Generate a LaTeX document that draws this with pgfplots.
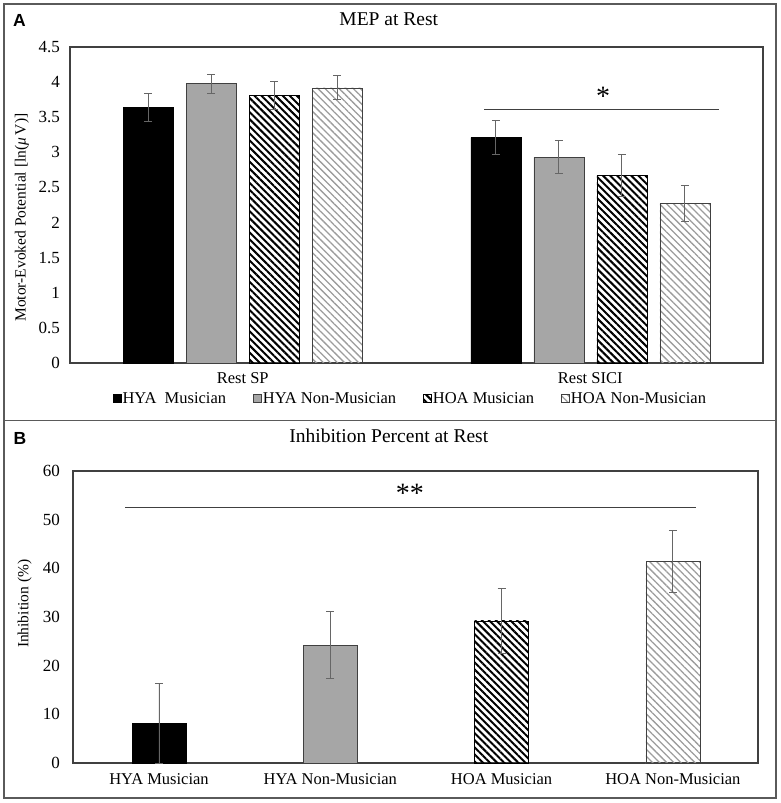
\documentclass[border=0pt]{standalone}
\usepackage{pgfplots}
\pgfplotsset{compat=1.18}
\usepackage{fontspec}
\setmainfont{Liberation Serif}
\newfontfamily\panelfont{Liberation Sans}
\usetikzlibrary{patterns.meta}
\definecolor{barfill}{HTML}{A6A6A6}
\definecolor{errc}{HTML}{666666}
\definecolor{framec}{HTML}{5A5A5A}
\definecolor{axc}{HTML}{404040}
\definecolor{hatchlight}{HTML}{9C9C9C}
\pgfplotsset{
  panel/.style={
    scale only axis,
    axis line style={axc, line width=1.1pt},
    major tick length=0pt,
    /pgf/number format/assume math mode=true,
    yticklabel style={font=\fontsize{17}{20}\selectfont, anchor=east, inner sep=0pt},
    xticklabel style={font=\fontsize{16.5}{19}\selectfont, anchor=base, inner sep=0pt},
    title style={font=\fontsize{19.5}{23}\selectfont, anchor=base, inner sep=0pt},
    ylabel style={font=\fontsize{15.5}{18}\selectfont, anchor=base, inner sep=0pt},
    ymin=0,
  },
  eb/.style={error bars/.cd, y dir=both, y explicit,
     error bar style={errc, line width=0.9pt},
     error mark options={rotate=90, errc, line width=0.9pt, mark size=4pt}},
  lg/.style={legend image code/.code={\draw[##1, line width=0.7pt] (0pt,-3.5pt) rectangle (8pt,4.5pt);}},
  hdark/.style={pattern={Lines[angle=-45, distance=5pt, line width=2pt]}, pattern color=black},
  hlight/.style={pattern={Lines[angle=-45, distance=5pt, line width=1.3pt]}, pattern color=hatchlight},
}
\begin{document}
\begin{tikzpicture}
\path[use as bounding box] (0pt,0pt) rectangle (780pt,-803pt);
\draw[framec, line width=1.5pt] (4pt,-4pt) rectangle (776pt,-798pt);
\draw[framec, line width=1.5pt] (4pt,-420.5pt) -- (776pt,-420.5pt);
\node[font=\panelfont\bfseries\fontsize{17.5}{20}\selectfont, anchor=base west, inner sep=0pt] at (13pt,-26.7pt) {A};
\node[font=\panelfont\bfseries\fontsize{17.5}{20}\selectfont, anchor=base west, inner sep=0pt] at (13.5pt,-444.3pt) {B};

\begin{axis}[panel, at={(70pt,-363pt)}, anchor=south west, width=693pt, height=316pt,
  ybar=13pt, bar width=50pt, xmin=-0.497, xmax=1.497, ymax=4.5, ytick={0,0.5,...,4.5},
  xtick={0,1}, xticklabels={Rest SP, Rest SICI},
  xticklabel style={yshift=-20pt}, yticklabel style={xshift=-10pt},
  title={MEP at Rest}, title style={at={(0.46,1)}, yshift=15.3pt},
  ylabel={Motor-Evoked Potential [ln({\itshape μ}\,V)]}, ylabel style={at={(-0.0642,0.46)}},
  legend columns=4,
  legend style={at={(0.4906,-0.1146)}, anchor=center, draw=none, fill=none,
    font=\fontsize{16.5}{19}\selectfont, nodes={inner sep=1pt},
    /tikz/every even column/.append style={column sep=26pt}},
]
\addplot[fill=black, draw=black, lg, eb] coordinates {(0,3.64) +- (0,0.20) (1,3.21) +- (0,0.24)};
\addplot[fill=barfill, draw=axc, lg, eb] coordinates {(0,3.98) +- (0,0.135) (1,2.93) +- (0,0.235)};
\addplot[hdark, draw=black, lg, eb] coordinates {(0,3.81) +- (0,0.205) (1,2.67) +- (0,0.30)};
\addplot[hlight, draw=axc, lg, eb] coordinates {(0,3.92) +- (0,0.17) (1,2.27) +- (0,0.255)};
\legend{HYA\ \ Musician, HYA Non-Musician, HOA Musician, HOA Non-Musician}
\draw[axc, line width=1pt] (axis cs:0.695,3.61) -- (axis cs:1.371,3.61);
\node[font=\fontsize{28}{32}\selectfont, inner sep=0pt] at (axis cs:1.037,3.80) {*};
\end{axis}

\begin{axis}[panel, at={(73pt,-763pt)}, anchor=south west, width=685pt, height=292pt,
  ybar, bar width=54pt, xmin=-0.502, xmax=3.497, ymax=60, ytick={0,10,...,60},
  xtick={0,1,2,3}, xticklabels={HYA Musician, HYA Non-Musician, HOA Musician, HOA Non-Musician},
  xticklabel style={yshift=-21pt}, yticklabel style={xshift=-13pt},
  title={Inhibition Percent at Rest}, title style={at={(0.461,1)}, yshift=23pt},
  ylabel={Inhibition (\%)}, ylabel style={at={(-0.065,0.545)}},
]
\addplot[fill=black, draw=black, bar shift=0pt, eb] coordinates {(0,8.1) +- (0,8.2)};
\addplot[fill=barfill, draw=axc, bar shift=0pt, eb] coordinates {(1,24.2) +- (0,6.85)};
\addplot[hdark, draw=black, bar shift=0pt, eb] coordinates {(2,29.2) +- (0,6.75)};
\addplot[hlight, draw=axc, bar shift=0pt, eb] coordinates {(3,41.4) +- (0,6.4)};
\draw[axc, line width=1pt] (axis cs:-0.198,52.6) -- (axis cs:3.135,52.6);
\node[font=\fontsize{28}{32}\selectfont, inner sep=0pt] at (axis cs:1.465,55.5) {**};
\end{axis}
\end{tikzpicture}
\end{document}
